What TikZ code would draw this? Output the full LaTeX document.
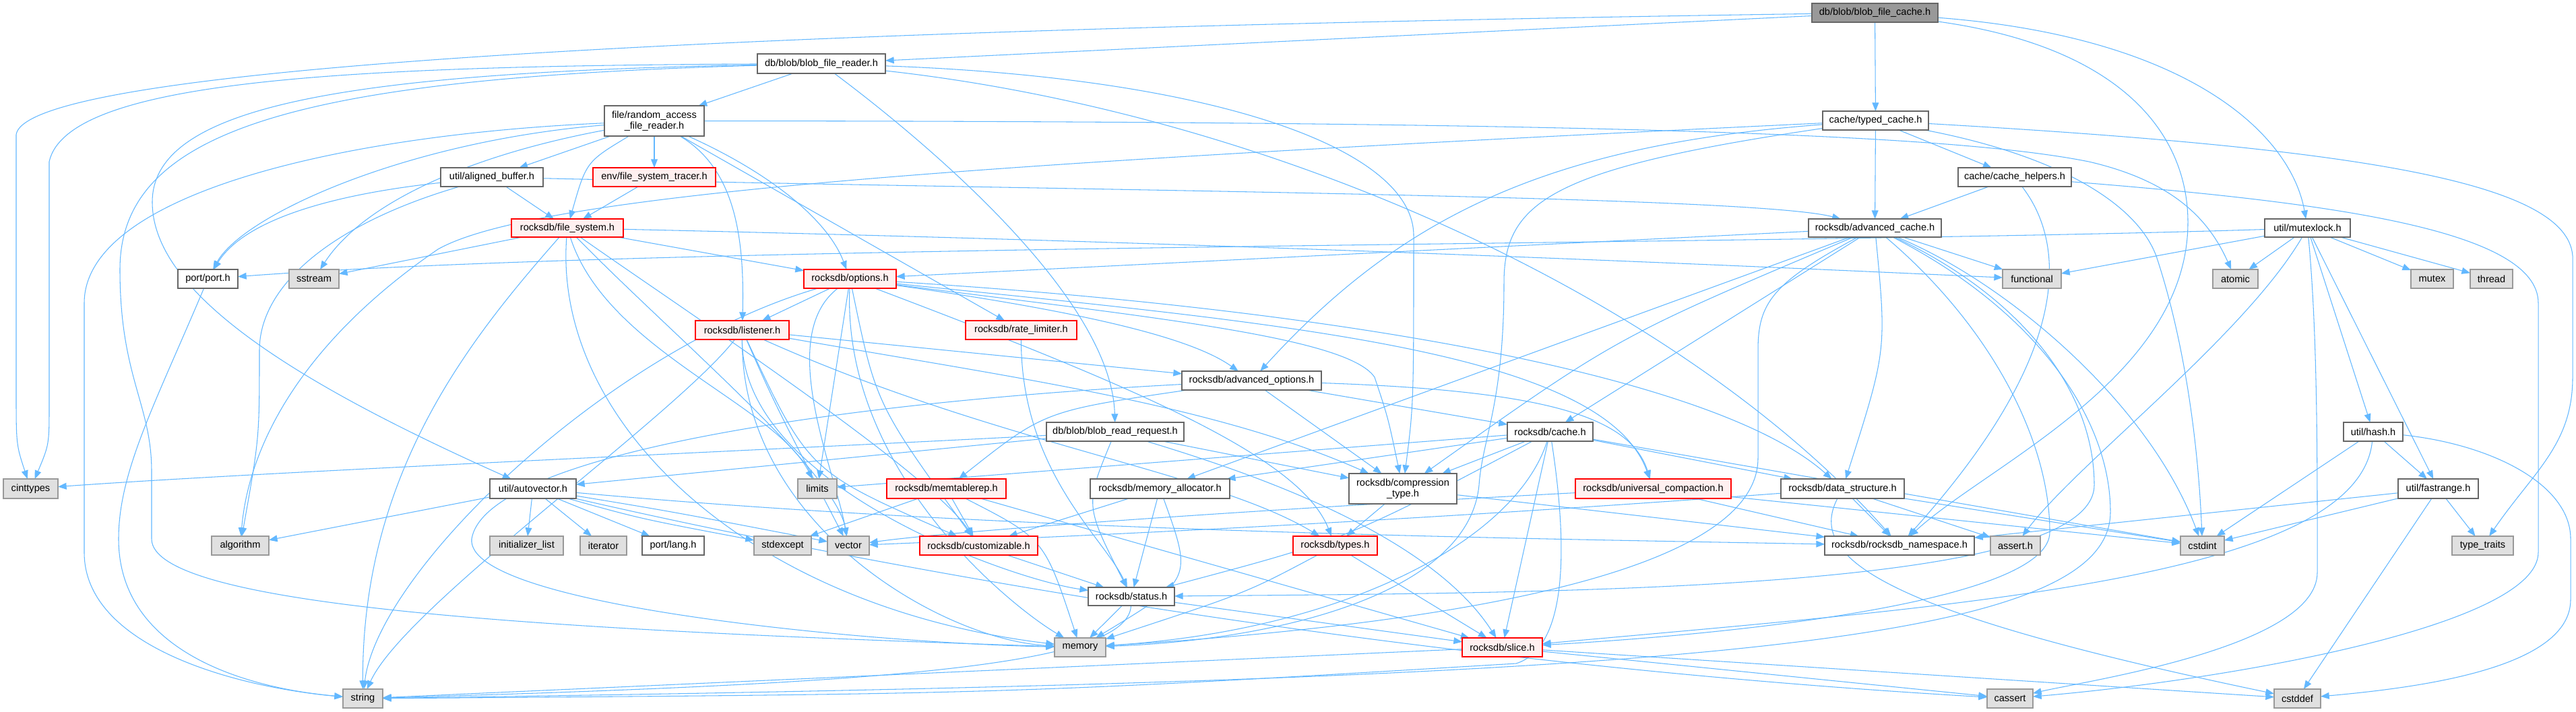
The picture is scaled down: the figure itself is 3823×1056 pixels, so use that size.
\documentclass[tikz,border=0pt]{standalone}
\usepackage{fontspec}
\setmainfont{Liberation Sans}
\usetikzlibrary{arrows.meta}
\pgfdeclarelayer{bg}
\pgfsetlayers{bg,main}
\definecolor{edgec}{HTML}{63B8FF}
\definecolor{wbord}{HTML}{666666}
\definecolor{gbord}{HTML}{999999}
\definecolor{gfill}{HTML}{E0E0E0}
\definecolor{rfill}{HTML}{FFF0F0}
\definecolor{rbord}{HTML}{FF0000}
\definecolor{rootfill}{HTML}{999999}
\tikzset{
  base/.style={draw, line width=0.7pt, inner sep=0pt, outer sep=0pt, align=center, font=\fontsize{8.3}{9.4}\selectfont, text=black},
  wn/.style={base, draw=wbord, fill=white},
  gn/.style={base, draw=gbord, fill=gfill},
  rn/.style={base, draw=rbord, fill=rfill},
  rootn/.style={base, draw=wbord, fill=rootfill},
  e/.style={draw=edgec, line width=0.6pt, -{Triangle[length=7.2pt,width=5.6pt]}},
}
\newcommand\nd[7]{\node[#2, minimum width={(#5-#3)*0.02cm}, minimum height={(#6-#4)*0.02cm}] (#1) at ({(#3+#5)/2},{(#4+#6)/2}) {#7};}

\begin{document}
\begin{tikzpicture}[x=0.02cm,y=-0.02cm]
\useasboundingbox (0,0) rectangle (3823,1056);
\nd{bfc}{rootn}{2689}{5}{2876}{33}{db/blob/blob\_file\_cache.h}
\nd{bfr}{wn}{1124}{80}{1314}{109}{db/blob/blob\_file\_reader.h}
\nd{tc}{wn}{2705}{165}{2862}{193}{cache/typed\_cache.h}
\nd{rafr}{wn}{897}{157}{1045}{202}{file/random\_access\\\_file\_reader.h}
\nd{ab}{wn}{654}{249}{806}{277}{util/aligned\_buffer.h}
\nd{fst}{rn}{880}{249}{1062}{277}{env/file\_system\_tracer.h}
\nd{ch}{wn}{2906}{249}{3074}{277}{cache/cache\_helpers.h}
\nd{fs}{rn}{759}{325}{925}{352}{rocksdb/file\_system.h}
\nd{ac}{wn}{2684}{325}{2881}{352}{rocksdb/advanced\_cache.h}
\nd{ml}{wn}{3361}{325}{3488}{352}{util/mutexlock.h}
\nd{port}{wn}{264}{400}{353}{428}{port/port.h}
\nd{sstream}{gn}{429}{400}{503}{428}{sstream}
\nd{opt}{rn}{1193}{400}{1330}{428}{rocksdb/options.h}
\nd{func}{gn}{2972}{400}{3059}{428}{functional}
\nd{atomic}{gn}{3284}{400}{3351}{428}{atomic}
\nd{mutex}{gn}{3578}{400}{3641}{428}{mutex}
\nd{thread}{gn}{3666}{400}{3729}{428}{thread}
\nd{lis}{rn}{1032}{476}{1171}{504}{rocksdb/listener.h}
\nd{rl}{rn}{1433}{476}{1598}{504}{rocksdb/rate\_limiter.h}
\nd{ao}{wn}{1754}{551}{1961}{579}{rocksdb/advanced\_options.h}
\nd{brr}{wn}{1553}{627}{1757}{655}{db/blob/blob\_read\_request.h}
\nd{cache}{wn}{2237}{627}{2364}{655}{rocksdb/cache.h}
\nd{hash}{wn}{3478}{627}{3566}{655}{util/hash.h}
\nd{cinttypes}{gn}{5}{711}{86}{740}{cinttypes}
\nd{av}{wn}{727}{711}{855}{740}{util/autovector.h}
\nd{limits}{gn}{1184}{711}{1242}{740}{limits}
\nd{mtr}{rn}{1316}{711}{1493}{740}{rocksdb/memtablerep.h}
\nd{ma}{wn}{1618}{711}{1825}{740}{rocksdb/memory\_allocator.h}
\nd{ct}{wn}{2002}{703}{2162}{748}{rocksdb/compression\\\_type.h}
\nd{uc}{rn}{2338}{711}{2569}{740}{rocksdb/universal\_compaction.h}
\nd{ds}{wn}{2643}{711}{2826}{740}{rocksdb/data\_structure.h}
\nd{fr}{wn}{3559}{711}{3678}{740}{util/fastrange.h}
\nd{algorithm}{gn}{314}{796}{399}{824}{algorithm}
\nd{il}{gn}{727}{796}{836}{824}{initializer\_list}
\nd{iterator}{gn}{861}{796}{930}{824}{iterator}
\nd{lang}{wn}{953}{796}{1045}{824}{port/lang.h}
\nd{stdexcept}{gn}{1119}{796}{1204}{824}{stdexcept}
\nd{vector}{gn}{1228}{796}{1290}{824}{vector}
\nd{cust}{rn}{1365}{796}{1540}{824}{rocksdb/customizable.h}
\nd{types}{rn}{1919}{796}{2044}{824}{rocksdb/types.h}
\nd{ns}{wn}{2708}{796}{2930}{824}{rocksdb/rocksdb\_namespace.h}
\nd{assert}{gn}{2954}{796}{3028}{824}{assert.h}
\nd{cstdint}{gn}{3236}{796}{3301}{824}{cstdint}
\nd{typetraits}{gn}{3639}{796}{3730}{824}{type\_traits}
\nd{status}{wn}{1615}{872}{1743}{899}{rocksdb/status.h}
\nd{memory}{gn}{1565}{947}{1641}{975}{memory}
\nd{slice}{rn}{2170}{947}{2289}{975}{rocksdb/slice.h}
\nd{string}{gn}{509}{1023}{568}{1051}{string}
\nd{cassert}{gn}{2949}{1023}{3017}{1051}{cassert}
\nd{cstddef}{gn}{3375}{1023}{3444}{1051}{cstddef}

\begin{pgfonlayer}{bg}
\fill[white] (0,0) rectangle (3823,1056);
% blob_file_cache
\draw[e] (bfc) .. controls (1500,38) and (40,80) .. (24,200) -- (24,580) .. controls (24,660) .. (cinttypes);
\draw[e] (bfc) -- (bfr);
\draw[e] (bfc) -- (tc);
\draw[e] (bfc) .. controls (3250,55) and (3400,200) .. (ml);
\draw[e] (bfc) .. controls (3150,70) and (3247,200) .. (3247,330) .. controls (3247,560) and (2950,690) .. (ns);
% blob_file_reader
\draw[e] (bfr) .. controls (500,98) and (100,120) .. (73,240) -- (73,600) .. controls (73,660) .. (cinttypes);
\draw[e] (bfr) .. controls (500,108) and (226,160) .. (226,300) .. controls (226,430) and (420,560) .. (av);
\draw[e] (bfr) .. controls (450,116) and (178,190) .. (178,400) .. controls (178,560) and (225,600) .. (225,700) -- (225,800) .. controls (225,900) and (800,935) .. (memory);
\draw[e] (bfr) -- (rafr);
\draw[e] (bfr) .. controls (1400,230) and (1650,450) .. (brr);
\draw[e] (bfr) .. controls (1800,115) and (2098,220) .. (2098,350) .. controls (2098,600) .. (ct);
\draw[e] (bfr) .. controls (1900,170) and (2500,450) .. (ns);
% typed_cache
\draw[e] (tc) -- (ch);
\draw[e] (tc) -- (ac);
\draw[e] (tc) .. controls (2300,215) and (2080,320) .. (ao);
\draw[e] (tc) .. controls (2300,250) and (2232,300) .. (2232,420) .. controls (2232,600) and (2200,650) .. (2195,720) .. controls (2180,880) and (1900,950) .. (memory);
\draw[e] (tc) .. controls (1500,240) and (800,285) .. (650,370) .. controls (460,500) and (370,650) .. (algorithm);
\draw[e] (tc) .. controls (3050,230) and (3170,300) .. (3200,380) .. controls (3240,500) and (3262,650) .. (cstdint);
\draw[e] (tc) .. controls (3500,220) and (3810,270) .. (3818,380) -- (3818,560) .. controls (3818,660) and (3760,700) .. (typetraits);
% cache_helpers
\draw[e] (ch) -- (ac);
\draw[e] (ch) .. controls (3065,360) and (3080,520) .. (ns);
\draw[e] (ch) .. controls (3450,300) and (3767,340) .. (3767,450) -- (3767,820) .. controls (3767,930) and (3300,1010) .. (cassert);
% advanced_cache
\draw[e] (ac) -- (opt);
\draw[e] (ac) -- (cache);
\draw[e] (ac) .. controls (2400,500) .. (ct);
\draw[e] (ac) -- (ma);
\draw[e] (ac) -- (func);
\draw[e] (ac) .. controls (2800,520) .. (ds);
\draw[e] (ac) .. controls (2630,420) and (2609,450) .. (2609,520) -- (2609,680) .. controls (2609,860) and (2100,930) .. (memory);
\draw[e] (ac) .. controls (2980,420) and (3190,600) .. (cstdint);
\draw[e] (ac) .. controls (2950,480) and (3042,650) .. (3042,790) .. controls (3042,890) and (2600,940) .. (slice);
\draw[e] (ac) .. controls (3000,440) and (3108,580) .. (3108,720) .. controls (3108,880) and (2300,880) .. (status);
\draw[e] (ac) .. controls (3020,460) and (3132,620) .. (3132,760) .. controls (3132,960) and (2500,1010) .. (string);
% mutexlock
\draw[e] (ml) .. controls (2600,365) and (1000,362) .. (port);
\draw[e] (ml) -- (func);
\draw[e] (ml) -- (atomic);
\draw[e] (ml) -- (mutex);
\draw[e] (ml) -- (thread);
\draw[e] (ml) -- (hash);
\draw[e] (ml) -- (fr);
\draw[e] (ml) .. controls (3330,500) and (3080,690) .. (assert);
\draw[e] (ml) .. controls (3440,500) and (3439,700) .. (3439,850) .. controls (3439,960) and (3100,1010) .. (cassert);
% hash
\draw[e] (hash) -- (cstdint);
\draw[e] (hash) .. controls (3500,860) and (2900,900) .. (slice);
\draw[e] (hash) -- (fr);
\draw[e] (hash) .. controls (3700,660) and (3815,720) .. (3815,800) -- (3815,890) .. controls (3815,990) and (3600,1020) .. (cstddef);
% fastrange
\draw[e] (fr) -- (ns);
\draw[e] (fr) -- (cstdint);
\draw[e] (fr) -- (typetraits);
\draw[e] (fr) -- (cstddef);
% random_access_file_reader
\draw[e] (rafr) -- (ab);
\draw[e] (rafr) .. controls (870,240) .. (fs);
\draw[e] (rafr) -- (fst);
\draw[e] (rafr) .. controls (2400,180) and (2900,200) .. (3100,240) .. controls (3230,270) and (3280,330) .. (atomic);
\draw[e] (rafr) .. controls (700,230) and (540,300) .. (sstream);
\draw[e] (rafr) .. controls (600,210) and (360,320) .. (port);
\draw[e] (rafr) .. controls (500,200) and (125,290) .. (125,450) -- (125,820) .. controls (125,960) and (350,1020) .. (string);
\draw[e] (rafr) .. controls (1090,250) and (1105,350) .. (lis);
\draw[e] (rafr) .. controls (1150,260) and (1230,330) .. (opt);
\draw[e] (rafr) -- (rl);
% aligned_buffer
\draw[e] (ab) -- (fs);
\draw[e] (ab) .. controls (480,290) and (360,330) .. (port);
\draw[e] (ab) .. controls (500,330) and (385,420) .. (385,520) .. controls (385,650) .. (algorithm);
\draw[e] (ab) .. controls (1600,283) and (2600,290) .. (ac);
% file_system_tracer
\draw[e] (fst) -- (fs);
% file_system
\draw[e] (fs) -- (sstream);
\draw[e] (fs) -- (opt);
\draw[e] (fs) .. controls (1900,362) and (2700,400) .. (func);
\draw[e] (fs) .. controls (900,520) and (1150,600) .. (limits);
\draw[e] (fs) .. controls (820,620) and (1100,900) .. (memory);
\draw[e] (fs) .. controls (700,500) and (537,700) .. (string);
\draw[e] (fs) .. controls (1000,500) and (1240,700) .. (vector);
\draw[e] (fs) .. controls (1000,450) and (1380,700) .. (cust);
% options
\draw[e] (opt) -- (lis);
\draw[e] (opt) -- (limits);
\draw[e] (opt) .. controls (1660,470) and (1780,510) .. (ao);
\draw[e] (opt) .. controls (1700,470) and (2000,500) .. (2040,560) .. controls (2060,620) .. (ct);
\draw[e] (opt) .. controls (1900,480) and (2380,520) .. (uc);
\draw[e] (opt) .. controls (2000,460) and (2550,560) .. (ds);
\draw[e] (opt) .. controls (1700,580) and (1930,680) .. (types);
\draw[e] (opt) .. controls (1300,600) .. (cust);
\draw[e] (opt) .. controls (1150,500) and (1240,700) .. (vector);
\draw[e] (opt) .. controls (900,520) and (560,850) .. (string);
\draw[e] (opt) .. controls (1250,700) and (1500,900) .. (memory);
% listener
\draw[e] (lis) -- (ao);
\draw[e] (lis) .. controls (1500,560) and (1800,600) .. (ct);
\draw[e] (lis) .. controls (1480,660) and (1800,700) .. (types);
\draw[e] (lis) .. controls (1200,700) .. (cust);
\draw[e] (lis) .. controls (1100,720) and (1500,860) .. (status);
\draw[e] (lis) .. controls (1150,600) .. (vector);
\draw[e] (lis) .. controls (1000,620) and (600,900) .. (string);
\draw[e] (lis) .. controls (1100,780) and (1400,950) .. (memory);
% rate_limiter
\draw[e] (rl) .. controls (1515,700) and (1640,800) .. (status);
% advanced_options
\draw[e] (ao) -- (cache);
\draw[e] (ao) -- (ct);
\draw[e] (ao) .. controls (1550,610) .. (mtr);
\draw[e] (ao) .. controls (2300,580) and (2420,620) .. (uc);
\draw[e] (ao) .. controls (1200,600) and (720,680) .. (700,800) .. controls (690,900) and (1300,955) .. (memory);
% blob_read_request
\draw[e] (brr) .. controls (1100,670) and (400,700) .. (cinttypes);
\draw[e] (brr) -- (av);
\draw[e] (brr) .. controls (1610,750) .. (status);
\draw[e] (brr) -- (ct);
\draw[e] (brr) .. controls (1850,700) and (2120,790) .. (slice);
% cache
\draw[e] (cache) -- (ct);
\draw[e] (cache) -- (ds);
\draw[e] (cache) -- (cstdint);
\draw[e] (cache) -- (limits);
\draw[e] (cache) -- (ma);
\draw[e] (cache) .. controls (2250,800) and (2000,935) .. (memory);
\draw[e] (cache) .. controls (2325,800) and (2330,960) .. (2250,985) .. controls (1500,1030) .. (string);
\draw[e] (cache) -- (slice);
\draw[e] (cache) .. controls (2000,800) .. (status);
% memory_allocator
\draw[e] (ma) -- (cust);
\draw[e] (ma) -- (status);
\draw[e] (ma) .. controls (1770,860) .. (memory);
% memtablerep
\draw[e] (mtr) -- (stdexcept);
\draw[e] (mtr) -- (cust);
\draw[e] (mtr) .. controls (1550,800) .. (memory);
\draw[e] (mtr) -- (slice);
% compression_type
\draw[e] (ct) -- (types);
\draw[e] (ct) -- (ns);
% universal_compaction
\draw[e] (uc) .. controls (1800,760) and (1400,790) .. (vector);
\draw[e] (uc) -- (ns);
\draw[e] (uc) -- (cstdint);
% data_structure
\draw[e] (ds) .. controls (2000,780) and (1500,800) .. (vector);
\draw[e] (ds) .. controls (2680,830) and (2800,910) .. (cstddef);
\draw[e] (ds) -- (ns);
\draw[e] (ds) -- (assert);
\draw[e] (ds) -- (cstdint);
% types
\draw[e] (types) -- (slice);
\draw[e] (types) .. controls (1850,880) .. (memory);
% customizable
\draw[e] (cust) -- (status);
% status
\draw[e] (status) -- (memory);
\draw[e] (status) .. controls (1675,990) and (1300,1015) .. (string);
\draw[e] (status) -- (slice);
% slice
\draw[e] (slice) -- (string);
\draw[e] (slice) -- (cassert);
\draw[e] (slice) -- (cstddef);
% autovector
\draw[e] (av) -- (algorithm);
\draw[e] (av) -- (il);
\draw[e] (av) -- (iterator);
\draw[e] (av) -- (lang);
\draw[e] (av) .. controls (950,770) .. (stdexcept);
\draw[e] (av) .. controls (1000,760) .. (vector);
\draw[e] (av) .. controls (1500,790) and (2300,800) .. (ns);
\draw[e] (av) .. controls (1200,820) and (2000,980) .. (cassert);
% port
\draw[e] (port) .. controls (230,600) and (176,700) .. (176,800) .. controls (176,960) and (350,1020) .. (string);
\end{pgfonlayer}
\end{tikzpicture}
\end{document}
